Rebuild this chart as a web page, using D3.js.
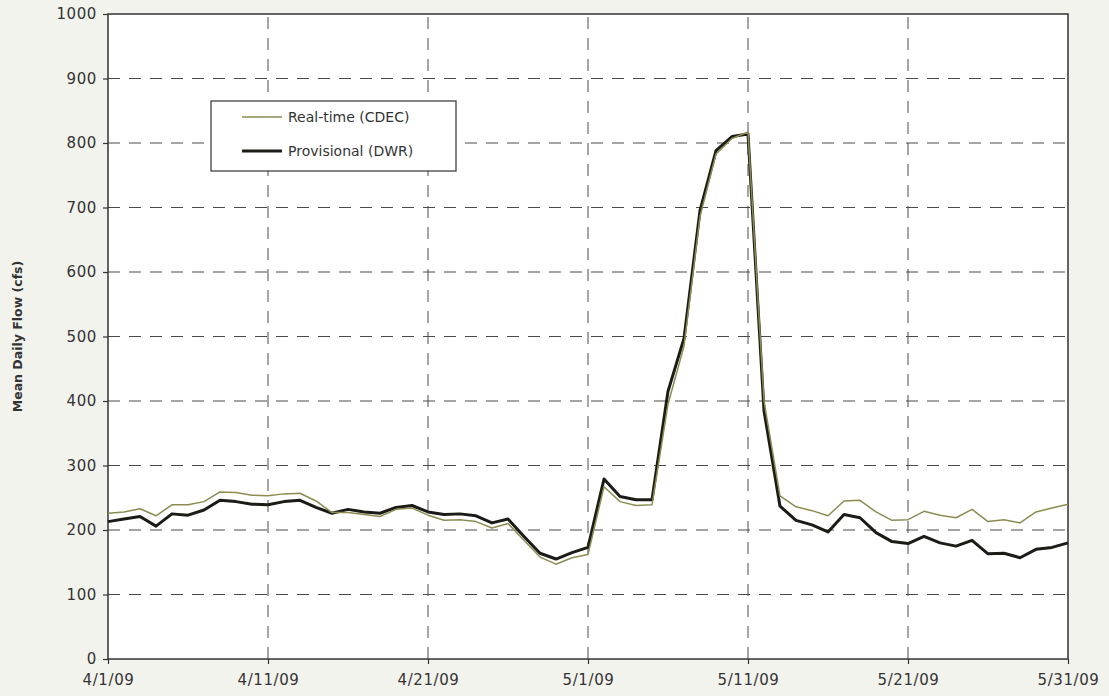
<!DOCTYPE html>
<html>
<head>
<meta charset="utf-8">
<script src="https://cdn.jsdelivr.net/npm/d3@7"></script>
<style>
  body { margin: 0; background: #f3f3ee; }
  svg { display: block; }
  text { font-family: "DejaVu Sans", "Liberation Sans", sans-serif; fill: #333; }
</style>
</head>
<body>
<div id="chart"></div>
<script>
// ============================================
// Data (daily values, 4/1/09 .. 5/31/09)
// ============================================

const startDate = new Date(2009, 3, 1);

const realtimeCdec = [
  226, 228, 233, 222, 239, 239, 244, 259, 258, 254,
  253, 256, 257, 245, 227, 227, 224, 221, 232, 234,
  223, 215, 216, 213, 203, 210, 184, 158, 147, 157,
  162, 267, 244, 238, 239, 395, 485, 686, 783, 807,
  817, 400, 253, 236, 230, 222, 245, 246, 228, 215,
  216, 229, 223, 219, 232, 213, 216, 211, 228, 234,
  240
];

const provisionalDwr = [
  213, 217, 221, 206, 225, 223, 231, 246, 244, 240,
  239, 244, 246, 235, 226, 232, 228, 226, 235, 238,
  228, 224, 225, 222, 211, 217, 190, 164, 155, 165,
  173, 279, 252, 247, 247, 415, 497, 695, 788, 810,
  814, 385, 237, 215, 208, 197, 224, 219, 196, 182,
  179, 190, 180, 175, 184, 163, 164, 157, 170, 173,
  180
];

const yTicks = [0, 100, 200, 300, 400, 500, 600, 700, 800, 900, 1000];
const xTickDays = [0, 10, 20, 30, 40, 50, 60];

const seriesNames = ['Real-time (CDEC)', 'Provisional (DWR)'];

// ============================================
// Layout
// ============================================

const width = 1109, height = 696;
const margin = { top: 14, right: 41, bottom: 37, left: 108 };
const innerW = width - margin.left - margin.right;
const innerH = height - margin.top - margin.bottom;

const colors = {
  cdec: '#8c8c52',
  dwr: '#1b1b17',
  grid: '#4a4a4a',
  border: '#333'
};

const dayDate = i => d3.timeDay.offset(startDate, i);

const x = d3.scaleTime()
  .domain([dayDate(0), dayDate(60)])
  .range([0, innerW]);

const y = d3.scaleLinear()
  .domain([0, 1000])
  .range([innerH, 0]);

const svg = d3.select('#chart').append('svg')
  .attr('width', width)
  .attr('height', height);

const g = svg.append('g')
  .attr('transform', `translate(${margin.left},${margin.top})`);

// plot background
g.append('rect')
  .attr('width', innerW)
  .attr('height', innerH)
  .attr('fill', '#fff');

// Grid lines
g.append('g').selectAll('line')
  .data(yTicks.slice(1, -1))
  .join('line')
  .attr('x1', 0).attr('x2', innerW)
  .attr('y1', d => y(d)).attr('y2', d => y(d))
  .attr('stroke', colors.grid)
  .attr('stroke-width', 1)
  .attr('stroke-dasharray', '12,9');

g.append('g').selectAll('line')
  .data(xTickDays.slice(1, -1))
  .join('line')
  .attr('x1', d => x(dayDate(d))).attr('x2', d => x(dayDate(d)))
  .attr('y1', innerH).attr('y2', 0)
  .attr('stroke', colors.grid)
  .attr('stroke-width', 1)
  .attr('stroke-dasharray', '12,9');

// Axes
const fmt = d3.timeFormat('%-m/%-d/%y');

const yAxis = g.append('g')
  .call(d3.axisLeft(y)
    .tickValues(yTicks)
    .tickFormat(d3.format('d'))
    .tickSize(5)
    .tickPadding(6));

const xAxis = g.append('g')
  .attr('transform', `translate(0,${innerH})`)
  .call(d3.axisBottom(x)
    .tickValues(xTickDays.map(dayDate))
    .tickFormat(fmt)
    .tickSize(5)
    .tickPadding(10));

[yAxis, xAxis].forEach(ax => {
  ax.select('.domain').remove();
  ax.selectAll('line').attr('stroke', colors.border).attr('stroke-width', 1.2);
  ax.selectAll('text')
    .attr('fill', '#333')
    .style('font-size', '15px')
    .style('letter-spacing', '0.6px')
    .style('font-family', '"DejaVu Sans", sans-serif');
});

// plot border
g.append('rect')
  .attr('width', innerW)
  .attr('height', innerH)
  .attr('fill', 'none')
  .attr('stroke', colors.border)
  .attr('stroke-width', 1.5);

// Lines
const line = d3.line()
  .x((d, i) => x(dayDate(i)))
  .y(d => y(d));

g.append('path')
  .datum(provisionalDwr)
  .attr('fill', 'none')
  .attr('stroke', colors.dwr)
  .attr('stroke-width', 3)
  .attr('stroke-linejoin', 'round')
  .attr('d', line);

g.append('path')
  .datum(realtimeCdec)
  .attr('fill', 'none')
  .attr('stroke', colors.cdec)
  .attr('stroke-width', 1.5)
  .attr('stroke-linejoin', 'round')
  .attr('d', line);

// Legend
const legend = svg.append('g').attr('transform', 'translate(211,101)');

legend.append('rect')
  .attr('width', 245)
  .attr('height', 70)
  .attr('fill', '#fff')
  .attr('stroke', colors.border)
  .attr('stroke-width', 1.2);

const legendItems = [
  { name: seriesNames[0], color: colors.cdec, w: 1.5, dy: 16 },
  { name: seriesNames[1], color: colors.dwr, w: 3, dy: 50 }
];

legendItems.forEach(item => {
  legend.append('line')
    .attr('x1', 31).attr('x2', 71)
    .attr('y1', item.dy).attr('y2', item.dy)
    .attr('stroke', item.color)
    .attr('stroke-width', item.w);
  legend.append('text')
    .attr('x', 77)
    .attr('y', item.dy + 5)
    .style('font-size', '14px')
    .text(item.name);
});

// Y axis label
svg.append('text')
  .attr('transform', `translate(22,${margin.top + innerH / 2}) rotate(-90)`)
  .attr('text-anchor', 'middle')
  .style('font-size', '12.5px')
  .style('font-weight', 'bold')
  .text('Mean Daily Flow (cfs)');
</script>
</body>
</html>
